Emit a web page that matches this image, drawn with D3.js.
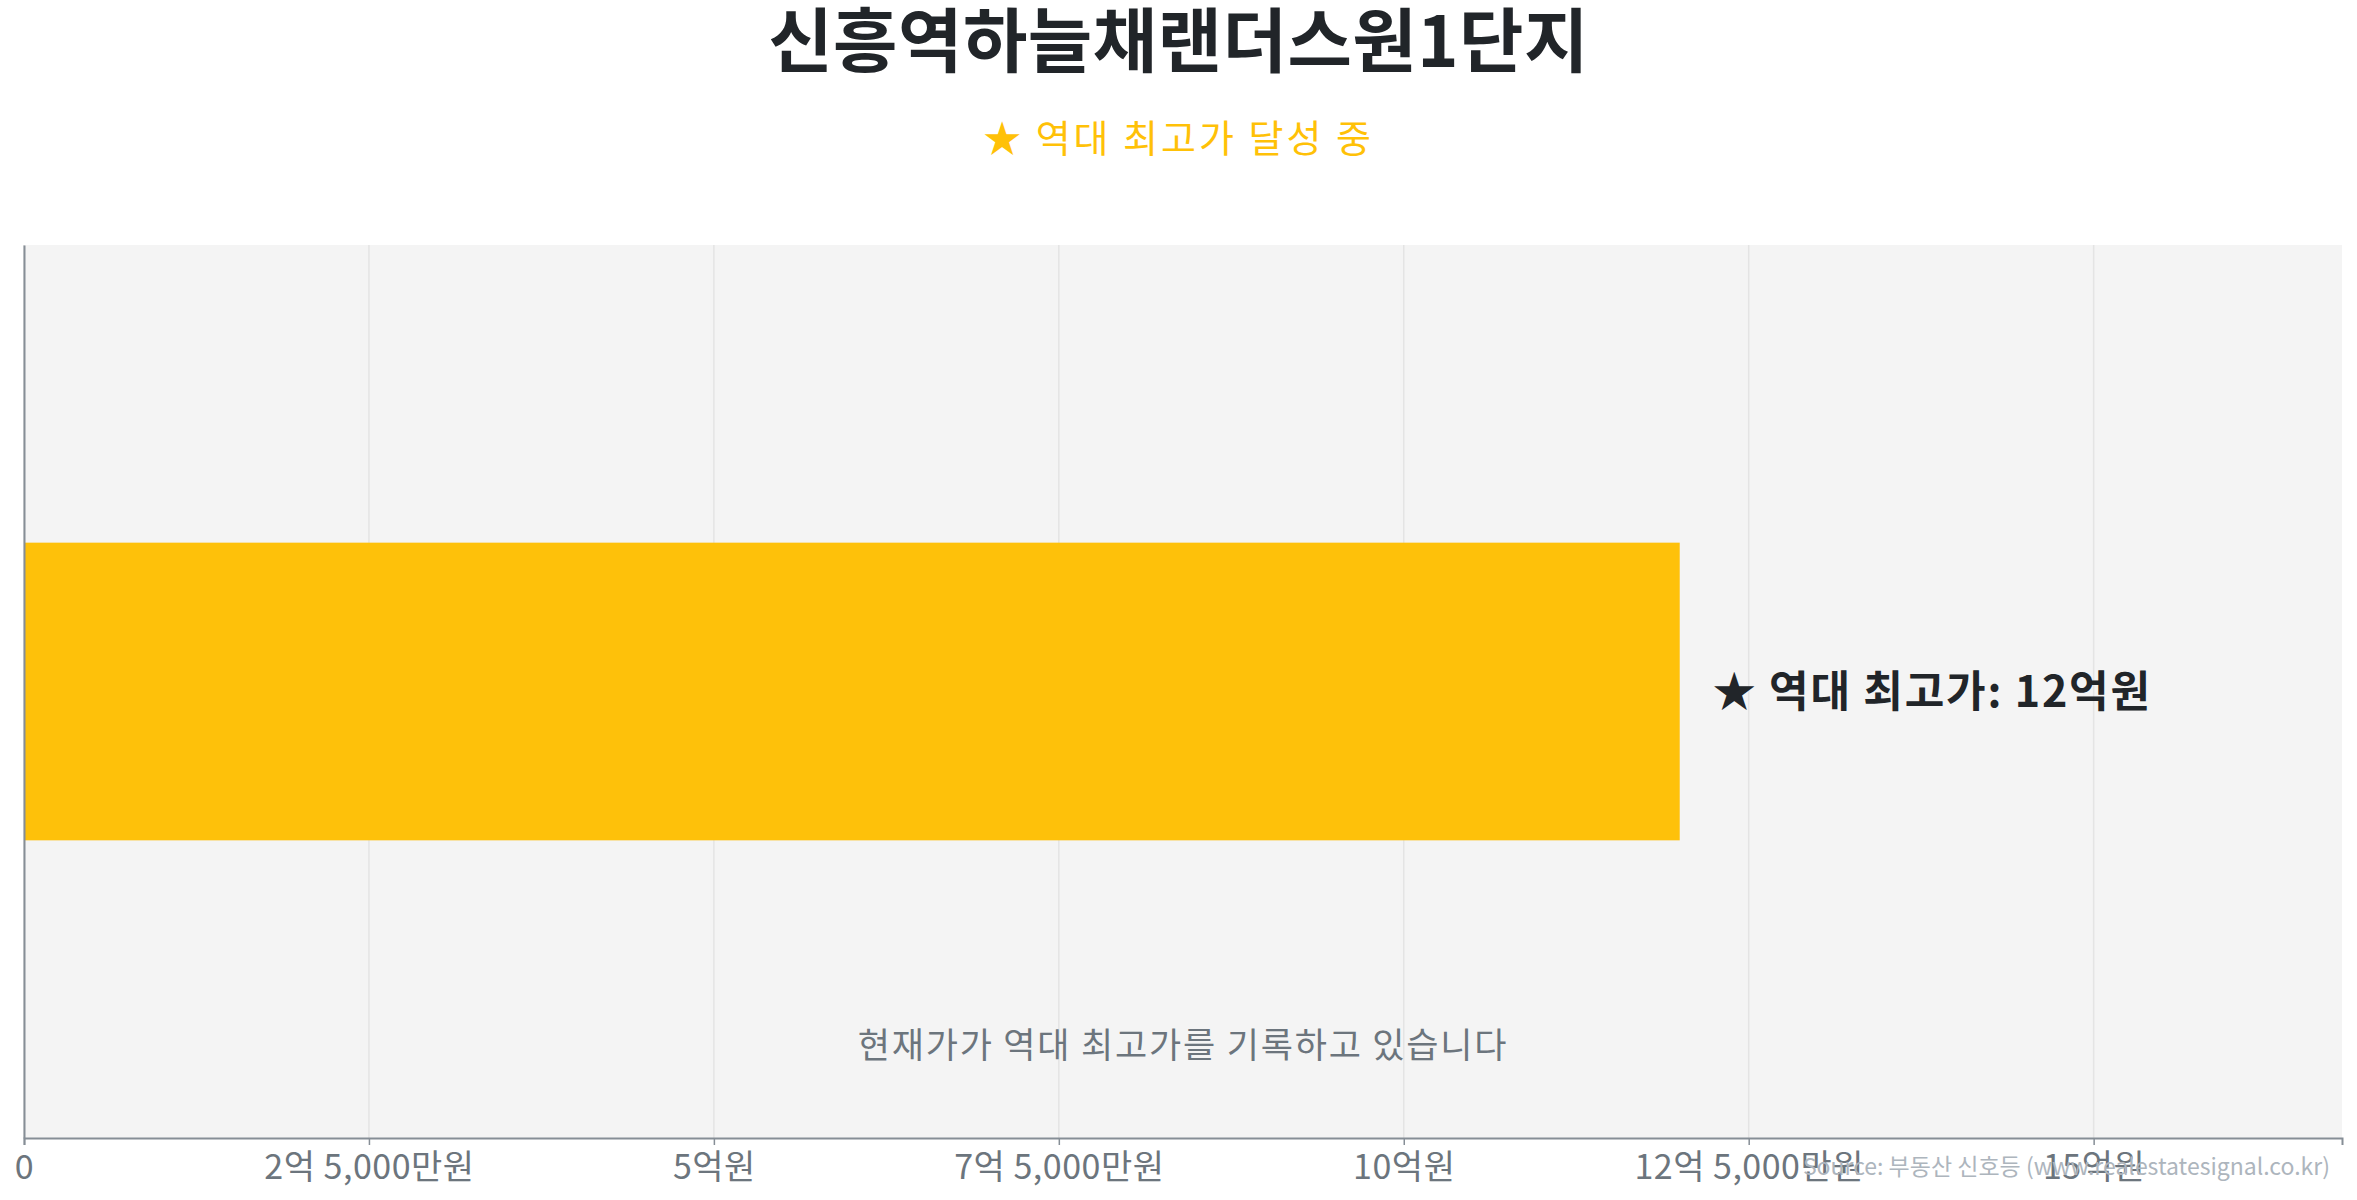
<!DOCTYPE html>
<html>
<head>
<meta charset="utf-8">
<script src="https://cdn.jsdelivr.net/npm/d3@7"></script>
<style>
  body { margin: 0; background: #fff; }
  text { font-family: "Noto Sans CJK KR", "Noto Sans", sans-serif; }
</style>
</head>
<body>
<div id="chart"></div>
<script>
// values in 억원
let complexes = ['신흥역하늘채랜더스원1단지']
let peakPrices = [12]
let tickValues = [0, 2.5, 5, 7.5, 10, 12.5, 15]
let tickLabels = ['0', '2억 5,000만원', '5억원', '7억 5,000만원', '10억원', '12억 5,000만원', '15억원']

let titleText = '신흥역하늘채랜더스원1단지'
let subtitleText = '★ 역대 최고가 달성 중'
let barLabel = '★ 역대 최고가: 12억원'
let noteText = '현재가가 역대 최고가를 기록하고 있습니다'
let sourceText = 'Source: 부동산 신호등 (www.realestatesignal.co.kr)'

function draw() {
  let width = 2357, height = 1200
  let margin = {top: 245, right: 15, bottom: 62, left: 24}
  let innerW = width - margin.left - margin.right
  let innerH = height - margin.top - margin.bottom

  let svg = d3.select('#chart').append('svg')
    .attr('width', width)
    .attr('height', height)

  svg.append('text')
    .attr('x', width / 2).attr('y', 67)
    .attr('text-anchor', 'middle')
    .attr('font-size', 70).attr('font-weight', 700)
    .attr('letter-spacing', 0.5)
    .attr('fill', '#212529')
    .text(titleText)

  svg.append('text')
    .attr('x', width / 2).attr('y', 152)
    .attr('text-anchor', 'middle')
    .attr('font-size', 38)
    .attr('letter-spacing', 3)
    .attr('fill', '#FFC107')
    .text(subtitleText)

  let g = svg.append('g').attr('transform', `translate(${margin.left},${margin.top})`)

  let x = d3.scaleLinear()
    .domain([0, d3.max(peakPrices) * 1.4])
    .range([0, innerW])

  let y = d3.scaleBand()
    .domain(complexes)
    .range([0, innerH])
    .padding(0.5)

  g.append('rect')
    .attr('width', innerW).attr('height', innerH)
    .attr('fill', '#f4f4f4')

  // grid
  g.selectAll('.grid')
    .data(tickValues)
    .enter().append('line')
      .attr('class', 'grid')
      .attr('x1', d => x(d)).attr('x2', d => x(d))
      .attr('y1', 0).attr('y2', innerH)
      .attr('stroke', '#e4e4e4').attr('stroke-width', 1.5)

  g.selectAll('.bar')
    .data(peakPrices)
    .enter().append('rect')
      .attr('class', 'bar')
      .attr('x', x(0))
      .attr('y', (d, i) => y(complexes[i]))
      .attr('width', d => x(d) - x(0))
      .attr('height', y.bandwidth())
      .attr('fill', '#FEC10A')

  g.selectAll('.barlabel')
    .data(peakPrices)
    .enter().append('text')
      .attr('class', 'barlabel')
      .attr('x', d => x(d) + 33)
      .attr('y', (d, i) => y(complexes[i]) + y.bandwidth() / 2)
      .attr('dy', '0.36em')
      .attr('font-size', 43).attr('font-weight', 700)
      .attr('letter-spacing', 1.8)
      .attr('fill', '#212529')
      .text(barLabel)

  g.append('text')
    .attr('x', innerW / 2).attr('y', innerH - 80)
    .attr('text-anchor', 'middle')
    .attr('font-size', 35)
    .attr('letter-spacing', 1.8)
    .attr('fill', '#6c757d')
    .text(noteText)

  let xAxis = g.append('g')
    .attr('transform', `translate(0,${innerH})`)
    .call(d3.axisBottom(x)
      .tickValues(tickValues)
      .tickFormat((d, i) => tickLabels[i])
      .tickSize(7)
      .tickPadding(10))
  xAxis.select('.domain').attr('stroke', '#868e96').attr('stroke-width', 2)
  xAxis.selectAll('.tick line').attr('stroke', '#868e96').attr('stroke-width', 1.5)
  xAxis.selectAll('.tick text')
    .attr('font-size', 34)
    .attr('letter-spacing', 0.5)
    .attr('font-family', '"Noto Sans CJK KR", sans-serif')
    .attr('fill', '#6c757d')

  let yAxis = g.append('g')
    .call(d3.axisLeft(y).tickSize(0).tickFormat(''))
  yAxis.select('.domain').attr('stroke', '#868e96').attr('stroke-width', 2)

  svg.append('text')
    .attr('x', width - 27).attr('y', 1175)
    .attr('text-anchor', 'end')
    .attr('font-size', 23)
    .attr('fill', '#adb5bd')
    .text(sourceText)
}

draw()
</script>
</body>
</html>
